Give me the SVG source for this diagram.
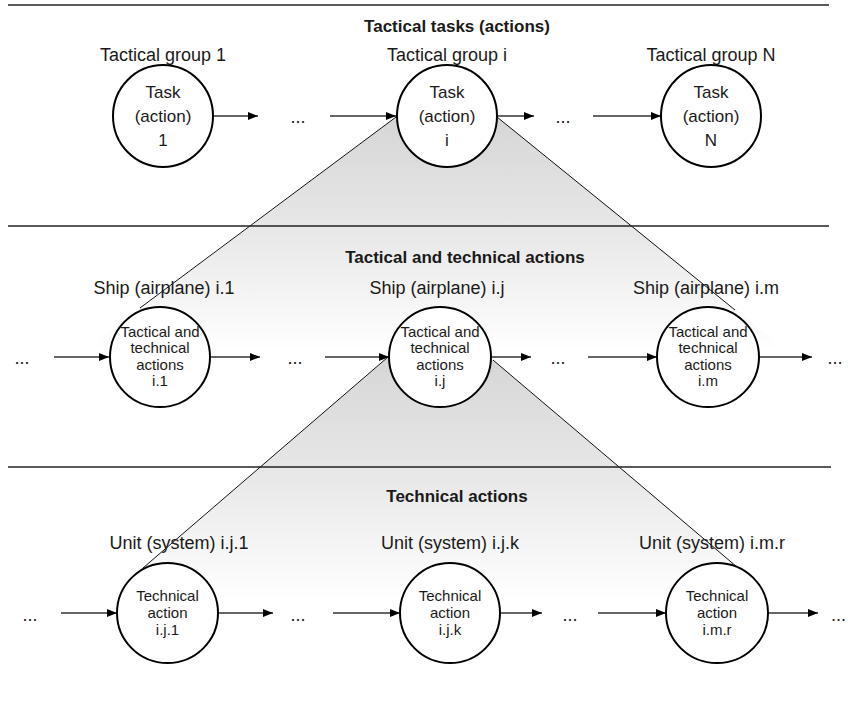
<svg xmlns="http://www.w3.org/2000/svg" width="848" height="706" viewBox="0 0 848 706">
<style>
.t{font-family:"Liberation Sans",Arial,sans-serif;fill:#1a1a1a;text-anchor:middle}
.h{font-size:17px;font-weight:bold}
.lb{font-size:18px}
.c1{font-size:17px}
.c2{font-size:15px}
.d{font-size:18px}
.sep{stroke:#222;stroke-width:1.3}
.diag{stroke:#111;stroke-width:1;fill:none}
.node{fill:#fff;stroke:#000;stroke-width:2}
.arr{stroke:#333;stroke-width:1.5;fill:none;marker-end:url(#ah)}
</style>
<defs>
<marker id="ah" viewBox="0 0 10 8" refX="10" refY="4" markerWidth="10" markerHeight="8" markerUnits="userSpaceOnUse" orient="auto">
<path d="M0,0 L10,4 L0,8 z" fill="#000"/>
</marker>
<linearGradient id="g1" gradientUnits="userSpaceOnUse" x1="0" y1="117" x2="0" y2="350">
<stop offset="0" stop-color="#d6d6d6"/>
<stop offset="0.5" stop-color="#e8e8e8"/>
<stop offset="1" stop-color="#ffffff"/>
</linearGradient>
<linearGradient id="g2" gradientUnits="userSpaceOnUse" x1="0" y1="357" x2="0" y2="600">
<stop offset="0" stop-color="#d6d6d6"/>
<stop offset="0.5" stop-color="#e8e8e8"/>
<stop offset="1" stop-color="#ffffff"/>
</linearGradient>
</defs>
<rect width="848" height="706" fill="#fff"/>
<g id="shading">
<polygon points="396,117 497,117 786,350 85,350" fill="url(#g1)"/>
<polygon points="388,357 493,360 776,600 106,600" fill="url(#g2)"/>
<line class="diag" x1="396" y1="117" x2="140" y2="308"/>
<line class="diag" x1="497" y1="117" x2="735" y2="310"/>
<line class="diag" x1="388" y1="357" x2="143" y2="568"/>
<line class="diag" x1="493" y1="360" x2="737" y2="567"/>
</g>
<g id="levels">
<line class="sep" x1="8" y1="5" x2="829" y2="5"/>
<line class="sep" x1="8" y1="226" x2="829" y2="226"/>
<line class="sep" x1="8" y1="467" x2="831" y2="467"/>
<text class="t h" x="457" y="32">Tactical tasks (actions)</text>
<text class="t h" x="465" y="263">Tactical and technical actions</text>
<text class="t h" x="457" y="502">Technical actions</text>
</g>
<g id="connectors">
<line class="arr" x1="213" y1="116" x2="258" y2="116"/>
<line class="arr" x1="330" y1="116" x2="396" y2="116"/>
<line class="arr" x1="497" y1="116" x2="534" y2="116"/>
<line class="arr" x1="593" y1="116" x2="661" y2="116"/>
<line class="arr" x1="54" y1="357" x2="109" y2="357"/>
<line class="arr" x1="210" y1="357" x2="260" y2="357"/>
<line class="arr" x1="325" y1="357" x2="389" y2="357"/>
<line class="arr" x1="491" y1="357" x2="531" y2="357"/>
<line class="arr" x1="588" y1="357" x2="657" y2="357"/>
<line class="arr" x1="759" y1="357" x2="812" y2="357"/>
<line class="arr" x1="61" y1="613" x2="117" y2="613"/>
<line class="arr" x1="218" y1="613" x2="273" y2="613"/>
<line class="arr" x1="333" y1="613" x2="400" y2="613"/>
<line class="arr" x1="500" y1="613" x2="542" y2="613"/>
<line class="arr" x1="598" y1="613" x2="666" y2="613"/>
<line class="arr" x1="768" y1="613" x2="818" y2="613"/>
<text class="t d" x="298" y="123">...</text>
<text class="t d" x="563" y="123">...</text>
<text class="t d" x="22" y="364">...</text>
<text class="t d" x="295" y="364">...</text>
<text class="t d" x="558" y="364">...</text>
<text class="t d" x="835" y="364">...</text>
<text class="t d" x="30" y="621">...</text>
<text class="t d" x="298" y="621">...</text>
<text class="t d" x="570" y="621">...</text>
<text class="t d" x="846" y="621" style="text-anchor:end">...</text>
</g>
<g id="task1">
<text class="t lb" x="163" y="61">Tactical group 1</text>
<ellipse class="node" cx="163" cy="116" rx="50" ry="51"/>
<text class="t c1" x="163" y="98">Task</text>
<text class="t c1" x="163" y="122">(action)</text>
<text class="t c1" x="163" y="146">1</text>
</g>
<g id="taski">
<text class="t lb" x="447" y="61">Tactical group i</text>
<ellipse class="node" cx="447" cy="116" rx="50" ry="51"/>
<text class="t c1" x="447" y="98">Task</text>
<text class="t c1" x="447" y="122">(action)</text>
<text class="t c1" x="447" y="146">i</text>
</g>
<g id="taskN">
<text class="t lb" x="711" y="61">Tactical group N</text>
<ellipse class="node" cx="711" cy="116" rx="50" ry="51"/>
<text class="t c1" x="711" y="98">Task</text>
<text class="t c1" x="711" y="122">(action)</text>
<text class="t c1" x="711" y="146">N</text>
</g>
<g id="ship1">
<text class="t lb" x="164" y="294">Ship (airplane) i.1</text>
<ellipse class="node" cx="160" cy="357" rx="50" ry="50"/>
<text class="t c2" x="160" y="337">Tactical and</text>
<text class="t c2" x="160" y="353">technical</text>
<text class="t c2" x="160" y="370">actions</text>
<text class="t c2" x="160" y="386">i.1</text>
</g>
<g id="shipj">
<text class="t lb" x="437" y="294">Ship (airplane) i.j</text>
<ellipse class="node" cx="440" cy="357" rx="51" ry="50"/>
<text class="t c2" x="440" y="337">Tactical and</text>
<text class="t c2" x="440" y="353">technical</text>
<text class="t c2" x="440" y="370">actions</text>
<text class="t c2" x="440" y="386">i.j</text>
</g>
<g id="shipm">
<text class="t lb" x="706" y="294">Ship (airplane) i.m</text>
<ellipse class="node" cx="708" cy="357" rx="51" ry="50"/>
<text class="t c2" x="708" y="337">Tactical and</text>
<text class="t c2" x="708" y="353">technical</text>
<text class="t c2" x="708" y="370">actions</text>
<text class="t c2" x="708" y="386">i.m</text>
</g>
<g id="unit1">
<text class="t lb" x="179" y="549">Unit (system) i.j.1</text>
<ellipse class="node" cx="167.5" cy="613" rx="50.5" ry="50"/>
<text class="t c2" x="167.5" y="601">Technical</text>
<text class="t c2" x="167.5" y="618">action</text>
<text class="t c2" x="167.5" y="635">i.j.1</text>
</g>
<g id="unitk">
<text class="t lb" x="450" y="549">Unit (system) i.j.k</text>
<ellipse class="node" cx="450" cy="613" rx="50" ry="50"/>
<text class="t c2" x="450" y="601">Technical</text>
<text class="t c2" x="450" y="618">action</text>
<text class="t c2" x="450" y="635">i.j.k</text>
</g>
<g id="unitr">
<text class="t lb" x="712" y="549">Unit (system) i.m.r</text>
<ellipse class="node" cx="717" cy="613" rx="51" ry="50"/>
<text class="t c2" x="717" y="601">Technical</text>
<text class="t c2" x="717" y="618">action</text>
<text class="t c2" x="717" y="635">i.m.r</text>
</g>
</svg>
